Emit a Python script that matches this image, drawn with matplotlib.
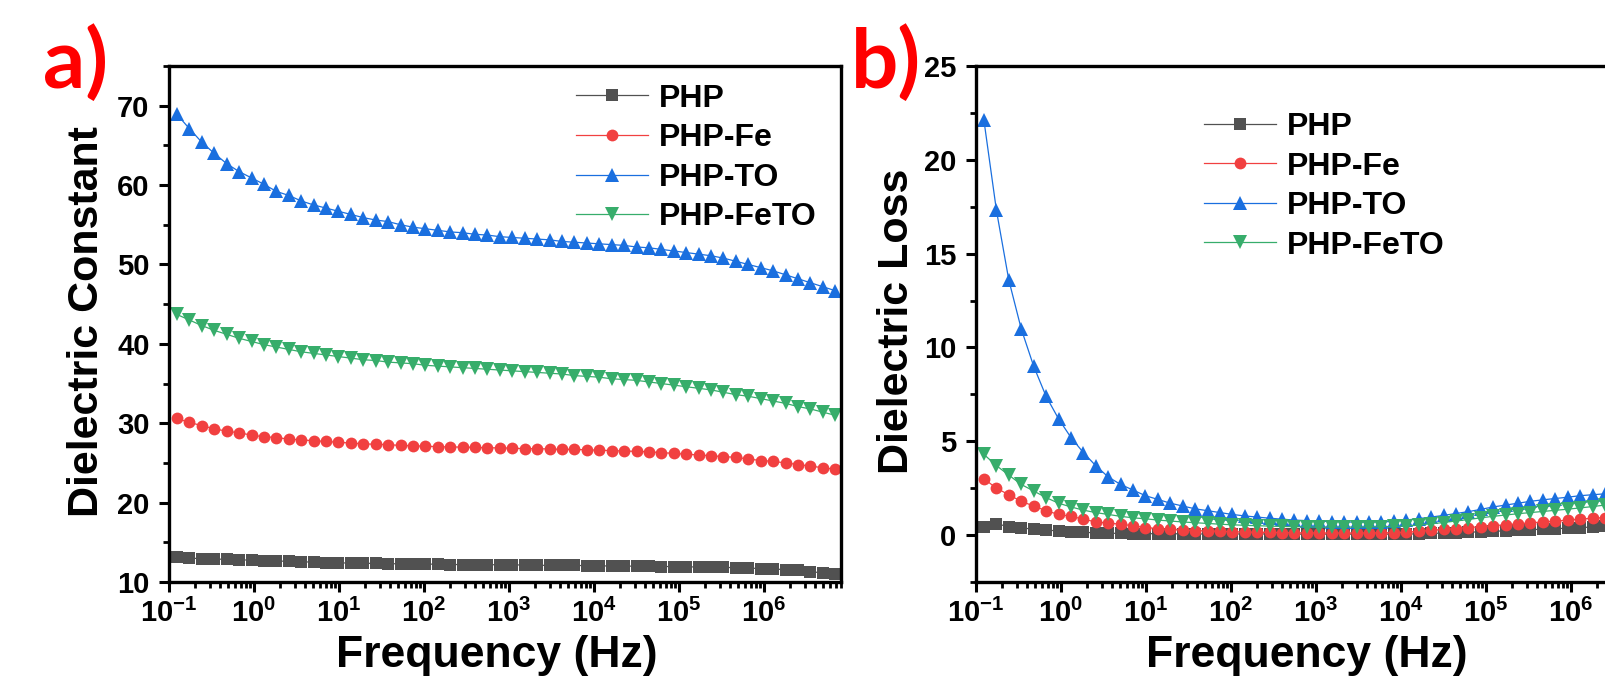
import matplotlib
matplotlib.use("Agg")
import matplotlib.pyplot as plt
from matplotlib.ticker import AutoMinorLocator, LogLocator, NullFormatter

plt.rcParams['font.family'] = ['Liberation Sans', 'DejaVu Sans']
plt.rcParams['font.weight'] = 'bold'
plt.rcParams['mathtext.fontset'] = 'custom'
plt.rcParams['mathtext.bf'] = 'Liberation Sans:bold'
plt.rcParams['mathtext.rm'] = 'Liberation Sans:bold'

# frequency sweep (Hz)
freq = [0.124, 0.174, 0.243, 0.340, 0.477, 0.667, 0.935, 1.31, 1.83, 2.56,
        3.59, 5.02, 7.03, 9.85, 13.8, 19.3, 27.0, 37.8, 53.0, 74.1,
        104, 145, 203, 284, 398, 558, 781, 1094, 1531, 2143,
        3000, 4199, 5875, 8222, 11510, 16140, 22590, 31620, 44260, 61940,
        86700, 121300, 169800, 237700, 332700, 466700, 653100, 914100, 1279000, 1791000,
        2506000, 3508000, 4909000, 6871000]

labels = ['PHP', 'PHP-Fe', 'PHP-TO', 'PHP-FeTO']
colors = ['#515151', '#F14040', '#1A6FDF', '#37AD6B']
markers = ['s', 'o', '^', 'v']
msizes = [8, 8.5, 9.5, 9.5]

# a) dielectric constant
eps_php = [13.1, 13.0, 12.95, 12.9, 12.85, 12.8, 12.75, 12.7, 12.65, 12.6,
           12.55, 12.5, 12.45, 12.4, 12.4, 12.35, 12.35, 12.3, 12.3, 12.3,
           12.25, 12.25, 12.2, 12.2, 12.2, 12.2, 12.15, 12.15, 12.15, 12.1,
           12.1, 12.1, 12.1, 12.05, 12.05, 12.0, 12.0, 12.0, 12.0, 11.95,
           11.95, 11.9, 11.9, 11.9, 11.85, 11.8, 11.75, 11.7, 11.65, 11.55,
           11.45, 11.3, 11.15, 11.0]
eps_fe = [30.6, 30.1, 29.7, 29.3, 29.0, 28.8, 28.5, 28.3, 28.2, 28.0,
          27.9, 27.8, 27.7, 27.6, 27.5, 27.4, 27.35, 27.3, 27.2, 27.15,
          27.1, 27.05, 27.0, 27.0, 26.95, 26.9, 26.9, 26.85, 26.8, 26.8,
          26.75, 26.7, 26.7, 26.65, 26.6, 26.55, 26.5, 26.45, 26.4, 26.3,
          26.2, 26.1, 26.0, 25.9, 25.8, 25.7, 25.5, 25.3, 25.2, 25.0,
          24.8, 24.6, 24.4, 24.2]
eps_to = [68.9, 67.1, 65.4, 64.0, 62.7, 61.7, 60.9, 60.1, 59.2, 58.7,
          58.0, 57.5, 57.1, 56.7, 56.3, 55.9, 55.6, 55.4, 55.0, 54.7,
          54.5, 54.3, 54.1, 54.0, 53.8, 53.7, 53.5, 53.4, 53.3, 53.2,
          53.1, 52.9, 52.8, 52.7, 52.6, 52.5, 52.4, 52.2, 52.1, 51.9,
          51.7, 51.5, 51.3, 51.1, 50.8, 50.4, 50.0, 49.6, 49.2, 48.7,
          48.2, 47.7, 47.2, 46.7]
eps_feto = [43.7, 43.0, 42.3, 41.7, 41.2, 40.7, 40.3, 39.9, 39.6, 39.3,
            39.0, 38.8, 38.6, 38.4, 38.2, 38.0, 37.9, 37.7, 37.6, 37.5,
            37.3, 37.2, 37.1, 37.0, 36.9, 36.8, 36.7, 36.6, 36.5, 36.4,
            36.3, 36.2, 36.0, 35.9, 35.8, 35.6, 35.5, 35.4, 35.2, 35.0,
            34.8, 34.6, 34.4, 34.2, 33.9, 33.6, 33.4, 33.1, 32.8, 32.5,
            32.1, 31.8, 31.4, 31.0]

# b) dielectric loss
loss_php = [0.45, 0.6, 0.45, 0.38, 0.32, 0.27, 0.22, 0.18, 0.15, 0.12,
            0.1, 0.09, 0.08, 0.08, 0.07, 0.07, 0.07, 0.06, 0.06, 0.06,
            0.06, 0.06, 0.06, 0.06, 0.05, 0.05, 0.05, 0.05, 0.05, 0.05,
            0.05, 0.05, 0.05, 0.05, 0.05, 0.07, 0.09, 0.11, 0.13, 0.15,
            0.18, 0.2, 0.23, 0.26, 0.29, 0.31, 0.34, 0.37, 0.4, 0.43,
            0.46, 0.49, 0.52, 0.55]
loss_fe = [3.0, 2.5, 2.15, 1.8, 1.55, 1.3, 1.1, 1.0, 0.85, 0.7,
           0.64, 0.58, 0.5, 0.4, 0.35, 0.3, 0.27, 0.24, 0.22, 0.2,
           0.18, 0.16, 0.15, 0.14, 0.13, 0.12, 0.12, 0.11, 0.11, 0.11,
           0.11, 0.11, 0.12, 0.13, 0.15, 0.2, 0.25, 0.3, 0.35, 0.4,
           0.45, 0.5, 0.55, 0.6, 0.65, 0.7, 0.74, 0.8, 0.85, 0.9,
           0.93, 0.96, 1.0, 1.03]
loss_to = [22.1, 17.3, 13.6, 11.0, 9.0, 7.4, 6.2, 5.2, 4.4, 3.7,
           3.1, 2.7, 2.4, 2.1, 1.9, 1.7, 1.55, 1.4, 1.3, 1.2,
           1.1, 1.02, 0.96, 0.9, 0.85, 0.8, 0.77, 0.74, 0.72, 0.7,
           0.69, 0.69, 0.7, 0.73, 0.8, 0.88, 0.96, 1.05, 1.15, 1.25,
           1.37, 1.5, 1.6, 1.7, 1.8, 1.88, 1.95, 2.02, 2.1, 2.15,
           2.2, 2.25, 2.3, 2.35]
loss_feto = [4.3, 3.7, 3.2, 2.7, 2.35, 2.0, 1.7, 1.5, 1.33, 1.2,
             1.1, 1.0, 0.92, 0.87, 0.8, 0.75, 0.7, 0.66, 0.62, 0.58,
             0.55, 0.52, 0.5, 0.48, 0.46, 0.45, 0.44, 0.43, 0.43, 0.43,
             0.43, 0.44, 0.45, 0.46, 0.48, 0.54, 0.6, 0.67, 0.75, 0.83,
             0.92, 1.0, 1.07, 1.14, 1.2, 1.26, 1.32, 1.38, 1.45, 1.52,
             1.6, 1.65, 1.7, 1.75]

xticks = [1e-1, 1e0, 1e1, 1e2, 1e3, 1e4, 1e5, 1e6]
xticklabels = [r'$\mathbf{10^{-1}}$', r'$\mathbf{10^{0}}$', r'$\mathbf{10^{1}}$',
               r'$\mathbf{10^{2}}$', r'$\mathbf{10^{3}}$', r'$\mathbf{10^{4}}$',
               r'$\mathbf{10^{5}}$', r'$\mathbf{10^{6}}$']

W, H = 1606, 677
fig = plt.figure(figsize=(W / 100, H / 100), dpi=100)


def px(x, y):
    # pixel (from top-left) -> figure fraction
    return x / W, 1 - y / H


def setup(ax, series, ylim, yticks, leg_anchor):
    for ys, lab, c, m, ms in zip(series, labels, colors, markers, msizes):
        ax.plot(freq, ys, color=c, lw=0.9, marker=m, ms=ms, mec=c, mew=0,
                label=lab, clip_on=True)
    ax.set_xscale('log')
    ax.set_xlim(0.1, 8.05e6)
    ax.set_ylim(*ylim)
    ax.set_xticks(xticks)
    ax.set_xticklabels(xticklabels)
    ax.xaxis.set_minor_locator(LogLocator(base=10, subs=range(2, 10), numticks=20))
    ax.xaxis.set_minor_formatter(NullFormatter())
    ax.set_yticks(yticks)
    ax.yaxis.set_minor_locator(AutoMinorLocator(2))
    for s in ax.spines.values():
        s.set_linewidth(2.4)
    ax.tick_params(which='major', direction='out', length=7, width=2.2,
                   labelsize=21, pad=5)
    ax.tick_params(axis='y', which='major', pad=7)
    ax.tick_params(which='minor', direction='out', length=4, width=2.0)
    ax.tick_params(top=False, right=False, which='both')
    for t in ax.get_yticklabels():
        t.set_fontweight('bold')
    ax.legend(loc='upper left', bbox_to_anchor=leg_anchor, frameon=False,
              prop={'weight': 'bold', 'size': 23},
              handlelength=2.25, handletextpad=0.35, labelspacing=0.3,
              borderaxespad=0, borderpad=0, numpoints=1)


ax1 = fig.add_axes([169 / W, 95 / H, 672 / W, 516 / H])
setup(ax1, [eps_php, eps_fe, eps_to, eps_feto], (10, 75),
      [10, 20, 30, 40, 50, 60, 70], (0.606, 0.966))

ax2 = fig.add_axes([976 / W, 95 / H, 672 / W, 516 / H])
setup(ax2, [loss_php, loss_fe, loss_to, loss_feto], (-2.5, 25),
      [0, 5, 10, 15, 20, 25], (0.339, 0.911))

# axis titles
fig.text(*px(497, 667), 'Frequency (Hz)', ha='center', va='baseline',
         fontsize=32, fontweight='bold')
fig.text(*px(1307, 667), 'Frequency (Hz)', ha='center', va='baseline',
         fontsize=32, fontweight='bold')
fig.text(*px(98, 322), 'Dielectric Constant', rotation=90, rotation_mode='anchor',
         ha='center', va='baseline', fontsize=31, fontweight='bold')
fig.text(*px(908, 321), 'Dielectric Loss', rotation=90, rotation_mode='anchor',
         ha='center', va='baseline', fontsize=31, fontweight='bold')

# panel letters
fig.text(*px(43, 88), 'a)', color='#FF0000', fontsize=60, fontweight='bold',
         family=['Lato', 'Liberation Sans'], ha='left', va='baseline')
fig.text(*px(851, 88), 'b)', color='#FF0000', fontsize=60, fontweight='bold',
         family=['Lato', 'Liberation Sans'], ha='left', va='baseline')

fig.savefig('out.png', dpi=100)
